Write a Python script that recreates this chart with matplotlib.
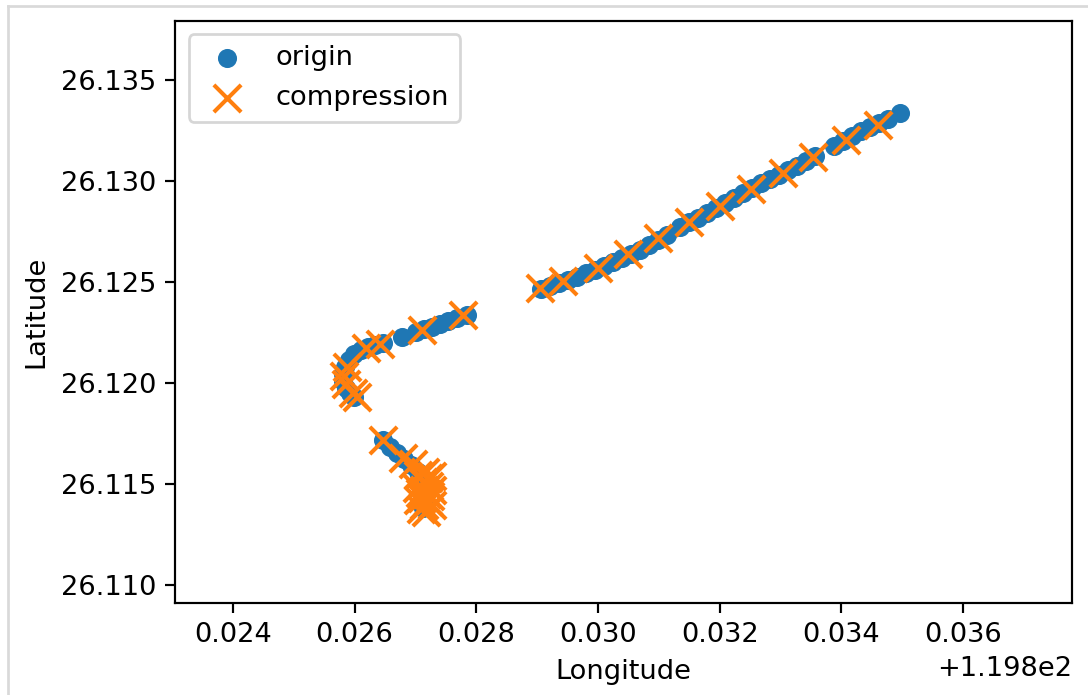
import matplotlib
matplotlib.use("Agg")
import matplotlib.pyplot as plt
from matplotlib.lines import Line2D

# original track (blue dots)
origin_lon = [
    119.82906, 119.82921, 119.82936, 119.82951, 119.82965, 119.82980, 119.82995, 119.83010,
    119.83025, 119.83039, 119.83054, 119.83069, 119.83084, 119.83099, 119.83113, 119.83135,
    119.83150, 119.83164, 119.83179, 119.83194, 119.83209, 119.83224, 119.83238, 119.83253,
    119.83268, 119.83283, 119.83298, 119.83312, 119.83327, 119.83342, 119.83357, 119.83388,
    119.83403, 119.83418, 119.83432, 119.83447, 119.83462, 119.83477, 119.83497,
    119.82785, 119.82768, 119.82753, 119.82740, 119.82727, 119.82714, 119.82701, 119.82678,
    119.82647, 119.82633, 119.82622, 119.82610, 119.82599, 119.82591, 119.82584, 119.82581,
    119.82581, 119.82586, 119.82592, 119.82599,
    119.82647, 119.82658, 119.82670, 119.82681, 119.82693, 119.82704, 119.82714, 119.82714,
    119.82714, 119.82712,
]
origin_lat = [
    26.12465, 26.12480, 26.12495, 26.12510, 26.12525, 26.12545, 26.12559, 26.12579,
    26.12599, 26.12619, 26.12639, 26.12658, 26.12683, 26.12708, 26.12733, 26.12772,
    26.12797, 26.12817, 26.12842, 26.12866, 26.12891, 26.12916, 26.12941, 26.12965,
    26.12990, 26.13010, 26.13030, 26.13054, 26.13074, 26.13099, 26.13124, 26.13173,
    26.13198, 26.13223, 26.13247, 26.13267, 26.13287, 26.13307, 26.13337,
    26.12337, 26.12322, 26.12307, 26.12292, 26.12277, 26.12267, 26.12253, 26.12228,
    26.12198, 26.12188, 26.12178, 26.12163, 26.12144, 26.12114, 26.12079, 26.12045,
    26.12010, 26.11975, 26.11951, 26.11931,
    26.11718, 26.11683, 26.11654, 26.11624, 26.11594, 26.11560, 26.11520, 26.11470,
    26.11421, 26.11381,
]

# compressed track (orange crosses)
comp_lon = [
    119.82905, 119.82942, 119.83000, 119.83049, 119.83099, 119.83150, 119.83201, 119.83252,
    119.83304, 119.83353, 119.83408, 119.83460,
    119.82778, 119.82711, 119.82642, 119.82619, 119.82587, 119.82582, 119.82586, 119.82597,
    119.82604,
    119.82647, 119.82679, 119.82696, 119.82716, 119.82721, 119.82712, 119.82722, 119.82714,
    119.82719, 119.82711, 119.82721, 119.82714, 119.82709, 119.82717,
    119.82704, 119.82727, 119.82702, 119.82727, 119.82704, 119.82727, 119.82724, 119.82707,
]
comp_lat = [
    26.12470, 26.12505, 26.12569, 26.12639, 26.12718, 26.12797, 26.12876, 26.12960,
    26.13040, 26.13119, 26.13203, 26.13277,
    26.12337, 26.12262, 26.12193, 26.12173, 26.12079, 26.12035, 26.11995, 26.11951,
    26.11931,
    26.11718, 26.11629, 26.11599, 26.11560, 26.11530, 26.11510, 26.11490, 26.11470,
    26.11451, 26.11431, 26.11416, 26.11396, 26.11376, 26.11361,
    26.11545, 26.11540, 26.11480, 26.11470, 26.11421, 26.11396, 26.11441, 26.11456,
]

dpi = 196
fig = plt.figure(figsize=(1088 / dpi, 695 / dpi), dpi=dpi)
ax = fig.add_axes([175 / 1088, 92 / 695, 897 / 1088, 582.3 / 695])

ax.scatter(origin_lon, origin_lat, label="origin")
ax.scatter(comp_lon, comp_lat, marker="x", s=100, label="compression")

ax.set_xlim(119.82305, 119.83779)
ax.set_ylim(26.10911, 26.13793)
ax.set_xticks([119.824, 119.826, 119.828, 119.830, 119.832, 119.834, 119.836])
ax.set_yticks([26.110, 26.115, 26.120, 26.125, 26.130, 26.135])
ax.set_xlabel("Longitude")
ax.set_ylabel("Latitude")
ax.legend(loc="upper left")

# screenshot frame lines
fig.add_artist(Line2D([7.5 / 1088, 1], [1 - 6 / 695, 1 - 6 / 695], color="#d9d9d9", lw=1.0))
fig.add_artist(Line2D([7.5 / 1088, 7.5 / 1088], [0, 1 - 6 / 695], color="#d9d9d9", lw=1.0))

fig.savefig("out.png", dpi=dpi)
